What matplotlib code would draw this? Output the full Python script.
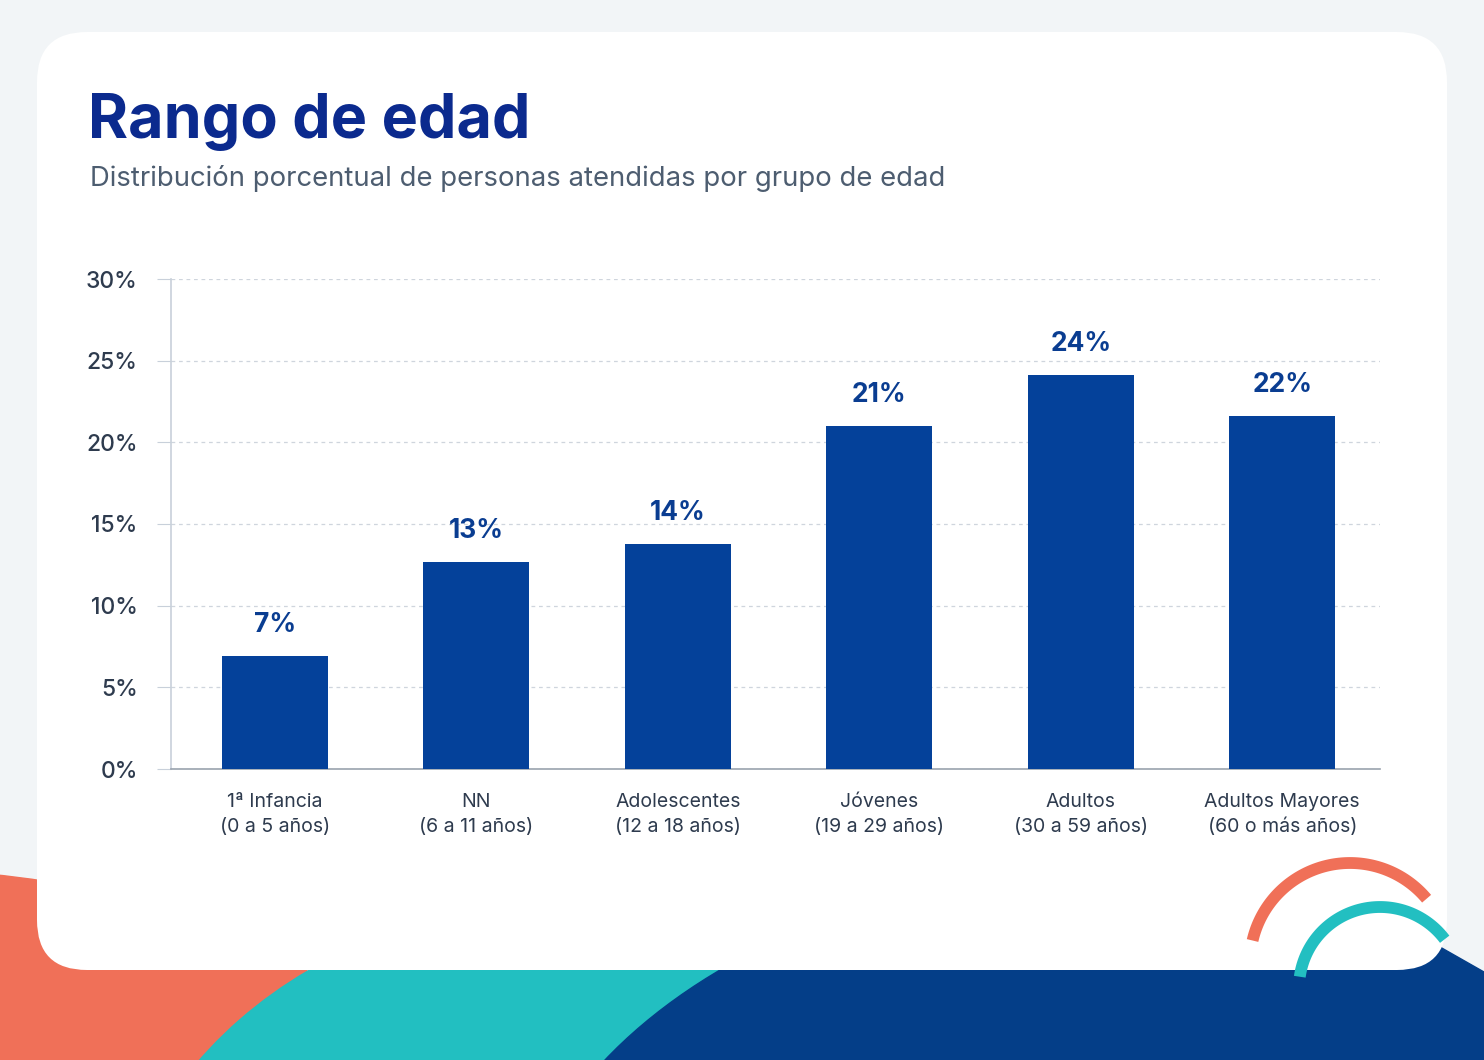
import numpy as np
import matplotlib.pyplot as plt
from matplotlib.patches import FancyBboxPatch, Ellipse, Polygon

# Data
categories = ["1ª Infancia\n(0 a 5 años)", "NN\n(6 a 11 años)", "Adolescentes\n(12 a 18 años)",
              "Jóvenes\n(19 a 29 años)", "Adultos\n(30 a 59 años)", "Adultos Mayores\n(60 o más años)"]
values = [6.9, 12.7, 13.8, 21.0, 24.1, 21.6]
yticks = [0, 5, 10, 15, 20, 25, 30]

BAR = "#04419a"
TITLE = "#0b2a8e"
TEXT = "#2e3b4e"
SUB = "#4d5d70"
CORAL = "#f07058"
TEAL = "#22bfc1"
NAVY = "#043e88"
BG = "#f2f5f7"

plt.rcParams['font.family'] = ['Inter', 'DejaVu Sans']

W, H = 1484, 1060
fig = plt.figure(figsize=(W / 100, H / 100), dpi=100)
fig.patch.set_facecolor(BG)

# background decoration in pixel coordinates
bg = fig.add_axes([0, 0, 1, 1])
bg.set_xlim(0, W)
bg.set_ylim(H, 0)
bg.axis("off")
bg.add_patch(Ellipse((-100, 1250), 1200, 760, color=CORAL, zorder=1))
bg.add_patch(Ellipse((560, 1300), 906, 792, color=TEAL, zorder=2))
# navy wave: left edge follows an ellipse, right side slopes down at the corner
th = np.radians(np.linspace(180, 120, 40))
left_x = 1150 + 641 * np.cos(th)
left_y = 1280 - 418 * np.sin(th)
navy_pts = np.column_stack([np.r_[left_x, 1100, 1440, 1484, 1484],
                            np.r_[left_y, 880, 947, 972, 1060]])
bg.add_patch(Polygon(navy_pts, closed=True, color=NAVY, zorder=3))
card = FancyBboxPatch((37, 32), 1410, 938, boxstyle="round,pad=0,rounding_size=50",
                      facecolor="white", edgecolor="none", zorder=4)
bg.add_patch(card)

# arcs bottom right
t = np.radians(np.linspace(40, 167, 100))
bg.plot(1350 + 100 * np.cos(t), 963 - 100 * np.sin(t), color=CORAL, lw=8.5,
        solid_capstyle="butt", zorder=5)
t = np.radians(np.linspace(37, 172, 100))
bg.plot(1380 + 81 * np.cos(t), 988 - 81 * np.sin(t), color=TEAL, lw=8.5,
        solid_capstyle="butt", zorder=5)

bg.text(88, 138, "Rango de edad", fontsize=44, fontweight="bold", color=TITLE,
        va="baseline", ha="left", zorder=6)
bg.text(90, 186, "Distribución porcentual de personas atendidas por grupo de edad",
        fontsize=19.8, color=SUB, va="baseline", ha="left", zorder=6)

# chart
ax = fig.add_axes([171 / W, 1 - 769 / H, (1380 - 171) / W, (769 - 279) / H])
ax.set_facecolor("none")
x = np.arange(len(categories))
ax.bar(x, values, width=0.525, color=BAR, zorder=3)
for xi, v in zip(x, values):
    ax.text(xi, v + 1.1, f"{round(v)}%", ha="center", va="bottom", fontsize=19,
            fontweight="bold", color="#0a3d91")

ax.set_xlim(-0.515, 5.485)
ax.set_ylim(0, 30)
ax.set_yticks(yticks)
ax.set_yticklabels([f"{v}%" for v in yticks], fontsize=16.5, color=TEXT, fontweight="medium")
ax.set_xticks(x)
ax.set_xticklabels(categories, fontsize=14, color=TEXT, linespacing=1.5)
ax.tick_params(axis="x", length=0, pad=17)
ax.tick_params(axis="y", length=10, color="#c8d0da", pad=14)
ax.grid(axis="y", color="#cfd5dd", linestyle=(0, (3, 3)), linewidth=0.9, zorder=0)
for s in ["top", "right"]:
    ax.spines[s].set_visible(False)
ax.spines["left"].set_color("#c8d0da")
ax.spines["left"].set_linewidth(1.2)
ax.spines["bottom"].set_color("#9aa3ae")
ax.spines["bottom"].set_linewidth(1.2)

fig.savefig("out.png", dpi=100, facecolor=BG)
